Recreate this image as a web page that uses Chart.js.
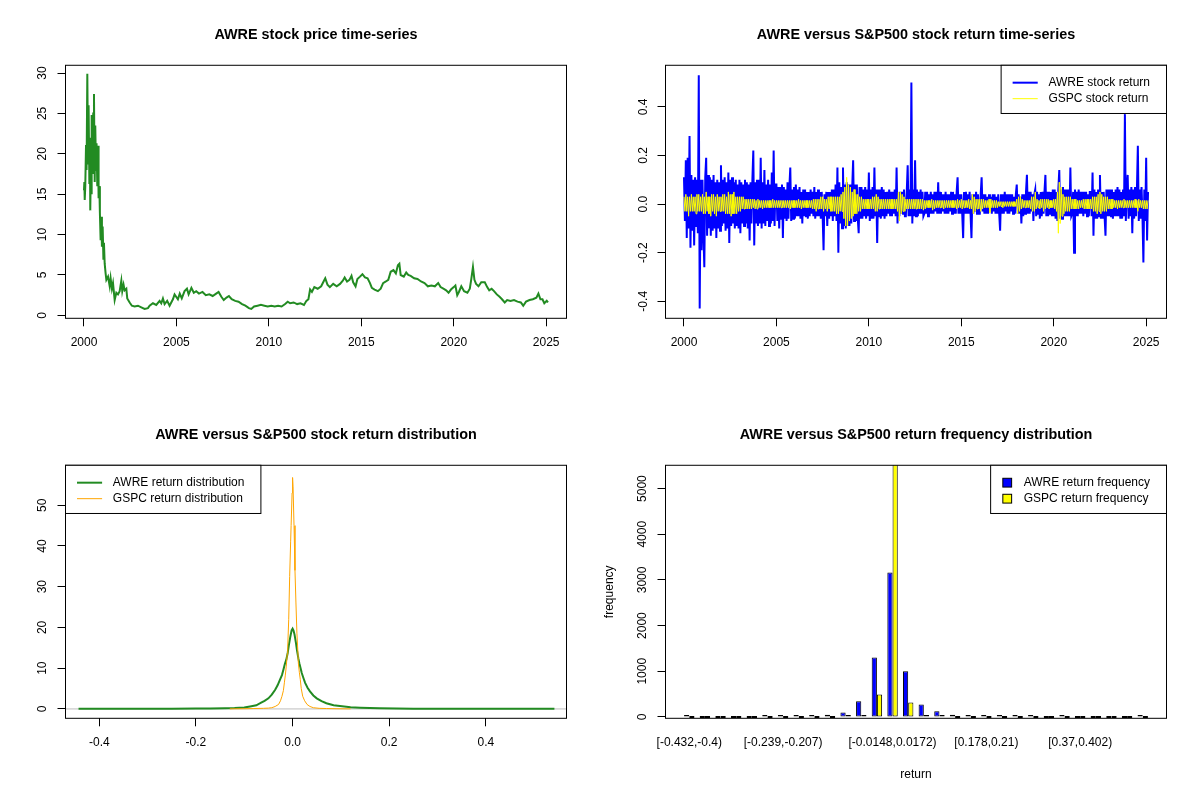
<!DOCTYPE html>
<html>
<head>
<meta charset="utf-8">
<script src="https://cdn.jsdelivr.net/npm/chart.js@4/dist/chart.umd.min.js"></script>
<style>
  html, body { margin: 0; background: #fff; }
  #grid { position: relative; width: 1200px; height: 800px; }
  .cell { position: absolute; width: 600px; height: 400px; }
</style>
</head>
<body>
<div id="grid">
  <div class="cell" style="left:0;top:0"><canvas id="priceChart" width="600" height="400"></canvas></div>
  <div class="cell" style="left:600px;top:0"><canvas id="returnChart" width="600" height="400"></canvas></div>
  <div class="cell" style="left:0;top:400px"><canvas id="densityChart" width="600" height="400"></canvas></div>
  <div class="cell" style="left:600px;top:400px"><canvas id="histChart" width="600" height="400"></canvas></div>
</div>
<script>
// ---- price series (decimal year, close) ----
var priceYears = [
  2000.00, 2000.02, 2000.04, 2000.07, 2000.11, 2000.14, 2000.18, 2000.22, 2000.25, 2000.29,
  2000.32, 2000.34, 2000.38, 2000.40, 2000.43, 2000.47, 2000.50, 2000.54, 2000.58, 2000.61,
  2000.65, 2000.68, 2000.72, 2000.76, 2000.79, 2000.83, 2000.86, 2000.90, 2000.94, 2000.97,
  2001.01, 2001.05, 2001.08, 2001.12, 2001.17, 2001.21, 2001.30, 2001.39, 2001.44, 2001.51,
  2001.57, 2001.66, 2001.75, 2001.84, 2001.93, 2002.02, 2002.07, 2002.14, 2002.20, 2002.29,
  2002.34, 2002.47, 2002.59, 2002.74, 2002.92, 2003.10, 2003.28, 2003.46, 2003.55, 2003.73,
  2003.91, 2004.09, 2004.18, 2004.27, 2004.36, 2004.50, 2004.63, 2004.81, 2004.90, 2005.08,
  2005.18, 2005.29, 2005.44, 2005.57, 2005.66, 2005.81, 2005.94, 2006.07, 2006.22, 2006.41,
  2006.59, 2006.78, 2006.96, 2007.15, 2007.28, 2007.43, 2007.56, 2007.71, 2007.84, 2007.99,
  2008.18, 2008.36, 2008.55, 2008.73, 2008.92, 2009.05, 2009.20, 2009.39, 2009.57, 2009.76,
  2009.94, 2010.13, 2010.32, 2010.50, 2010.69, 2010.88, 2011.02, 2011.15, 2011.34, 2011.53,
  2011.71, 2011.90, 2012.03, 2012.14, 2012.23, 2012.33, 2012.46, 2012.64, 2012.83, 2012.96,
  2013.05, 2013.17, 2013.30, 2013.48, 2013.67, 2013.85, 2014.00, 2014.10, 2014.23, 2014.36,
  2014.47, 2014.56, 2014.69, 2014.79, 2014.93, 2015.06, 2015.20, 2015.34, 2015.47, 2015.57,
  2015.72, 2015.90, 2016.05, 2016.18, 2016.33, 2016.46, 2016.59, 2016.74, 2016.87, 2016.98,
  2017.06, 2017.13, 2017.30, 2017.43, 2017.54, 2017.67, 2017.86, 2018.04, 2018.23, 2018.42,
  2018.60, 2018.79, 2018.98, 2019.16, 2019.29, 2019.44, 2019.59, 2019.72, 2019.85, 2020.00,
  2020.09, 2020.19, 2020.28, 2020.41, 2020.56, 2020.74, 2020.87, 2020.95, 2021.04, 2021.12,
  2021.21, 2021.34, 2021.49, 2021.68, 2021.81, 2021.92, 2022.05, 2022.18, 2022.33, 2022.48,
  2022.61, 2022.76, 2022.89, 2023.07, 2023.26, 2023.45, 2023.63, 2023.76, 2023.91, 2024.10,
  2024.28, 2024.47, 2024.58, 2024.69, 2024.80, 2024.90, 2025.03, 2025.10
];
var priceValues = [
  15.5, 16.5, 14.3, 16.0, 21.1, 18.0, 29.9, 18.8, 26.0, 16.4,
  22.0, 13.0, 20.0, 15.0, 24.8, 17.5, 25.0, 27.4, 16.5, 23.5,
  18.0, 21.3, 16.0, 21.0, 14.5, 16.0, 12.7, 9.3, 12.2, 8.5,
  11.0, 7.0, 9.0, 6.4, 5.2, 4.4, 4.8, 3.6, 4.6, 3.3,
  4.0, 1.9, 2.8, 2.6, 3.0, 4.3, 3.0, 3.8, 3.1, 3.3,
  2.1, 1.6, 1.2, 1.1, 1.2, 1.0, 0.8, 0.9, 1.2, 1.5,
  1.3, 1.8, 1.5, 2.1, 1.4, 1.8, 1.2, 2.0, 2.6, 2.0,
  2.7, 2.1, 3.0, 3.3, 2.6, 3.4, 2.8, 3.0, 2.7, 2.9,
  2.5, 2.6, 2.4, 2.7, 2.9, 2.3, 1.9, 2.2, 2.4, 2.0,
  1.8, 1.7, 1.4, 1.2, 0.9, 0.8, 1.1, 1.2, 1.3, 1.2,
  1.1, 1.2, 1.1, 1.2, 1.1, 1.4, 1.7, 1.5, 1.6, 1.4,
  1.5, 1.3, 1.8, 2.0, 3.2, 2.9, 3.5, 3.3, 3.6, 4.2,
  4.6, 3.8, 3.5, 3.9, 3.6, 3.9, 4.3, 4.7, 4.2, 4.4,
  4.9, 4.1, 3.6, 4.5, 4.8, 5.1, 4.7, 4.6, 4.0, 3.4,
  3.2, 3.0, 3.3, 4.0, 4.2, 4.4, 5.4, 5.6, 5.2, 6.2,
  6.4, 5.0, 4.8, 5.3, 5.0, 4.9, 4.6, 4.5, 4.2, 4.0,
  3.6, 3.7, 3.6, 4.0, 3.5, 3.3, 3.1, 2.8, 3.2, 3.5,
  3.7, 2.5, 2.9, 3.6, 3.0, 2.8, 3.3, 4.5, 6.0, 4.4,
  3.9, 3.6, 4.1, 4.1, 3.5, 3.1, 3.3, 3.0, 2.6, 2.3,
  2.0, 1.6, 1.9, 1.8, 1.9, 1.7, 1.6, 1.2, 1.7, 1.9,
  2.0, 2.2, 2.7, 2.0, 2.0, 1.5, 1.8, 1.6
];

// ---- daily returns, sampled every 0.05 year from 2000.0 (one row per year) ----
var returnStart = 2000;
var returnStep = 0.05;
var awreReturns = [
  0.11, -0.07, 0.18, -0.14, 0.19, -0.10, 0.28, -0.18, 0.12, -0.11, 0.10, -0.17, 0.11, -0.09, 0.10, -0.12, 0.53, -0.43, 0.10, -0.19,
  0.10, -0.12, -0.26, 0.11, 0.19, -0.13, 0.12, -0.10, 0.11, -0.13, 0.10, -0.11, 0.12, -0.10, 0.09, -0.14, 0.10, -0.10, 0.09, -0.11,
  0.16, -0.09, 0.10, -0.08, 0.11, -0.11, 0.09, -0.10, 0.13, -0.16, 0.10, -0.09, 0.11, -0.08, 0.09, -0.10, 0.10, -0.09, 0.08, -0.10,
  0.10, -0.12, 0.09, -0.08, 0.08, -0.09, 0.10, -0.08, 0.09, -0.10, 0.08, -0.15, 0.09, -0.08, 0.10, 0.22, -0.17, 0.09, -0.08, 0.10,
  -0.09, 0.10, -0.08, 0.19, -0.10, 0.09, -0.08, 0.14, -0.09, 0.08, -0.07, 0.10, -0.09, 0.08, -0.08, 0.13, -0.07, 0.22, -0.09, 0.08,
  0.08, -0.07, 0.07, -0.10, 0.07, -0.06, 0.08, -0.14, 0.07, -0.06, 0.06, -0.07, 0.09, -0.06, 0.07, 0.15, -0.07, 0.06, -0.06, 0.07,
  -0.06, 0.08, -0.05, 0.06, -0.05, 0.07, -0.06, 0.05, -0.08, 0.06, -0.05, 0.06, -0.05, 0.05, -0.06, 0.05, -0.05, 0.06, -0.04, 0.05,
  -0.05, 0.07, -0.06, 0.05, -0.05, 0.06, -0.05, 0.05, -0.06, 0.05, -0.05, -0.19, 0.04, -0.05, 0.05, -0.09, 0.05, -0.06, 0.05, -0.05,
  0.06, -0.07, 0.06, -0.05, 0.08, -0.07, 0.15, -0.20, 0.09, -0.08, 0.07, -0.10, 0.15, -0.09, 0.08, -0.10, 0.09, -0.09, 0.08, -0.09,
  0.08, -0.08, 0.07, 0.18, -0.07, 0.08, -0.07, 0.08, -0.06, -0.12, 0.07, -0.06, 0.07, -0.06, 0.06, -0.05, 0.07, -0.06, 0.06, -0.05,
  0.13, -0.07, 0.06, -0.06, 0.07, -0.06, 0.15, -0.05, 0.06, -0.16, 0.06, -0.05, 0.06, -0.06, 0.07, -0.05, 0.06, -0.06, 0.05, -0.05,
  0.05, -0.04, 0.06, -0.05, 0.05, -0.05, 0.05, -0.04, 0.06, -0.05, 0.15, -0.08, 0.05, -0.05, 0.05, -0.04, 0.05, -0.04, 0.06, -0.05,
  -0.05, 0.05, 0.16, -0.05, 0.06, -0.05, 0.50, -0.08, 0.06, -0.05, 0.18, -0.05, 0.06, -0.05, 0.05, -0.04, 0.06, -0.04, 0.05, -0.05,
  -0.04, 0.05, -0.04, 0.05, -0.05, 0.04, -0.04, 0.05, -0.04, 0.04, -0.04, 0.05, -0.03, 0.05, -0.04, 0.09, -0.04, 0.05, -0.04, 0.04,
  -0.03, 0.04, -0.04, 0.05, -0.04, 0.04, -0.04, 0.04, -0.03, 0.05, -0.04, 0.05, -0.04, 0.04, -0.04, 0.05, 0.11, -0.04, 0.04, -0.04,
  0.04, -0.04, -0.14, 0.05, -0.04, 0.05, -0.04, 0.04, -0.04, 0.05, -0.04, -0.14, 0.04, -0.04, 0.04, -0.03, 0.05, -0.04, 0.04, -0.04,
  -0.04, 0.04, 0.11, -0.03, 0.04, -0.04, 0.04, -0.04, 0.03, -0.04, 0.04, -0.03, 0.03, -0.04, 0.04, -0.03, 0.04, -0.04, 0.03, -0.04,
  0.04, -0.04, -0.11, 0.04, -0.04, 0.04, -0.04, 0.05, -0.03, 0.04, -0.04, 0.04, -0.04, 0.04, -0.03, 0.04, -0.04, 0.03, -0.04, 0.04,
  0.08, -0.04, 0.04, -0.04, 0.03, -0.08, 0.04, -0.05, 0.04, -0.04, 0.05, 0.12, -0.04, 0.05, -0.04, 0.05, -0.03, 0.04, -0.07, 0.04,
  0.06, -0.05, 0.05, -0.04, 0.04, -0.06, 0.05, -0.05, 0.05, -0.04, 0.05, 0.12, -0.05, 0.05, -0.05, 0.05, -0.04, 0.05, -0.05, 0.06,
  -0.05, 0.06, -0.06, 0.05, -0.07, 0.06, 0.14, -0.06, 0.06, -0.06, 0.07, -0.05, 0.06, -0.05, 0.06, -0.05, 0.06, -0.05, 0.15, -0.05,
  -0.04, 0.05, -0.20, 0.06, -0.05, 0.05, -0.05, 0.06, -0.04, 0.05, -0.04, 0.05, -0.05, 0.05, -0.04, 0.05, -0.05, 0.04, -0.05, 0.05,
  0.05, -0.05, 0.13, -0.13, 0.06, -0.06, 0.05, -0.06, 0.06, -0.05, 0.12, -0.06, 0.05, -0.06, 0.05, -0.05, -0.13, 0.06, -0.05, 0.06,
  -0.05, 0.06, -0.05, 0.06, -0.06, 0.05, -0.05, 0.06, -0.05, 0.07, -0.05, 0.06, -0.06, 0.05, -0.06, 0.06, -0.05, 0.37, -0.07, 0.06,
  0.12, -0.06, 0.06, -0.05, 0.07, -0.12, 0.06, -0.06, 0.07, -0.05, 0.06, 0.24, -0.07, 0.06, -0.06, 0.07, -0.05, -0.24, 0.06, -0.07,
  0.19, -0.15, 0.05
];
var gspcReturns = [
  0.03, -0.03, 0.04, -0.03, 0.03, -0.05, 0.03, -0.03, 0.04, -0.03, 0.03, -0.03, 0.03, -0.04, 0.04, -0.03, 0.04, -0.03, 0.03, -0.03,
  0.04, -0.04, 0.03, -0.04, 0.05, -0.03, 0.03, -0.04, 0.03, -0.05, 0.04, -0.03, 0.04, -0.04, 0.03, -0.05, 0.04, -0.03, 0.03, -0.03,
  0.03, -0.03, 0.04, -0.03, 0.04, -0.04, 0.03, -0.04, 0.05, -0.04, 0.04, -0.05, 0.04, -0.04, 0.05, -0.04, 0.03, -0.04, 0.03, -0.03,
  0.03, -0.03, 0.03, -0.02, 0.03, -0.02, 0.02, -0.02, 0.02, -0.02, 0.02, -0.02, 0.02, -0.02, 0.02, -0.015, 0.02, -0.02, 0.015, -0.02,
  0.02, -0.015, 0.015, -0.015, 0.015, -0.02, 0.015, -0.015, 0.015, -0.015, 0.015, -0.015, 0.015, -0.015, 0.015, -0.015, 0.02, -0.015, 0.015, -0.015,
  0.015, -0.015, 0.015, -0.015, 0.015, -0.015, 0.015, -0.015, 0.015, -0.015, 0.015, -0.015, 0.015, -0.015, 0.015, -0.02, 0.015, -0.015, 0.015, -0.015,
  0.015, -0.015, 0.015, -0.015, 0.02, -0.015, 0.015, -0.02, 0.015, -0.015, 0.015, -0.015, 0.015, -0.015, 0.015, -0.015, 0.015, -0.015, 0.015, -0.02,
  0.02, -0.02, 0.02, -0.03, 0.02, -0.02, 0.02, -0.02, 0.03, -0.02, 0.03, -0.03, 0.02, -0.02, 0.02, -0.03, 0.03, -0.02, 0.03, -0.03,
  0.03, -0.03, 0.03, -0.03, 0.03, -0.04, 0.03, -0.04, 0.03, -0.03, 0.04, -0.03, 0.05, -0.06, 0.07, -0.09, 0.11, -0.09, 0.08, -0.07,
  0.07, -0.06, 0.05, -0.05, 0.06, -0.04, 0.04, -0.04, 0.04, -0.03, 0.03, -0.03, 0.03, -0.02, 0.02, -0.02, 0.02, -0.02, 0.02, -0.02,
  0.02, -0.02, 0.02, -0.02, 0.03, -0.02, 0.03, -0.03, 0.04, -0.03, 0.03, -0.02, 0.02, -0.02, 0.02, -0.02, 0.02, -0.02, 0.02, -0.02,
  0.02, -0.02, 0.02, -0.02, 0.02, -0.02, 0.02, -0.02, 0.02, -0.02, 0.02, -0.03, 0.05, -0.07, 0.05, -0.04, 0.04, -0.03, 0.03, -0.03,
  0.02, -0.02, 0.02, -0.02, 0.02, -0.02, 0.02, -0.02, 0.02, -0.02, 0.02, -0.02, 0.02, -0.02, 0.02, -0.02, 0.02, -0.02, 0.02, -0.025,
  0.015, -0.02, 0.015, -0.015, 0.015, -0.015, 0.015, -0.015, 0.02, -0.025, 0.015, -0.02, 0.015, -0.015, 0.015, -0.015, 0.015, -0.015, 0.015, -0.015,
  0.015, -0.02, 0.015, -0.015, 0.015, -0.015, 0.015, -0.015, 0.015, -0.015, 0.015, -0.015, 0.015, -0.015, 0.015, -0.02, 0.02, -0.015, 0.015, -0.015,
  0.02, -0.02, 0.015, -0.015, 0.015, -0.015, 0.015, -0.015, 0.02, -0.02, 0.015, -0.02, 0.04, -0.04, 0.03, -0.03, 0.02, -0.02, 0.02, -0.02,
  0.02, -0.03, 0.02, -0.02, 0.02, -0.015, 0.015, -0.015, 0.015, -0.015, 0.02, -0.035, 0.02, -0.015, 0.015, -0.015, 0.015, -0.015, 0.015, -0.015,
  0.01, -0.01, 0.01, -0.01, 0.01, -0.015, 0.01, -0.01, 0.01, -0.01, 0.01, -0.01, 0.01, -0.01, 0.01, -0.01, 0.01, -0.01, 0.01, -0.01,
  0.02, -0.04, 0.03, -0.03, 0.03, -0.02, 0.02, -0.015, 0.015, -0.015, 0.015, -0.015, 0.015, -0.015, 0.015, -0.02, 0.03, -0.03, 0.03, -0.03,
  0.05, -0.02, 0.02, -0.015, 0.015, -0.02, 0.02, -0.015, 0.02, -0.03, 0.02, -0.02, 0.02, -0.015, 0.02, -0.02, 0.015, -0.015, 0.015, -0.015,
  0.02, -0.02, 0.02, -0.03, 0.05, -0.12, 0.09, -0.08, 0.07, -0.05, 0.04, -0.04, 0.03, -0.03, 0.03, -0.03, 0.03, -0.03, 0.03, -0.02,
  0.02, -0.02, 0.02, -0.02, 0.02, -0.02, 0.015, -0.02, 0.015, -0.015, 0.015, -0.015, 0.02, -0.02, 0.02, -0.02, 0.02, -0.02, 0.02, -0.02,
  0.02, -0.02, 0.03, -0.03, 0.03, -0.03, 0.03, -0.04, 0.04, -0.03, 0.05, -0.04, 0.04, -0.03, 0.03, -0.03, 0.03, -0.03, 0.03, -0.02,
  0.02, -0.02, 0.02, -0.02, 0.02, -0.015, 0.015, -0.015, 0.015, -0.02, 0.015, -0.015, 0.015, -0.015, 0.015, -0.015, 0.02, -0.015, 0.015, -0.015,
  0.015, -0.015, 0.015, -0.015, 0.015, -0.015, 0.015, -0.015, 0.02, -0.015, 0.015, -0.03, 0.02, -0.015, 0.015, -0.015, 0.015, -0.02, 0.015, -0.02,
  0.015, -0.02, 0.015
];

// ---- kernel densities ----
var awreDensX = [-0.443, -0.35, -0.25, -0.2, -0.17, -0.14, -0.12, -0.10, -0.088, -0.075, -0.067, -0.058, -0.05, -0.043, -0.036, -0.031, -0.026, -0.022, -0.019, -0.016, -0.013, -0.010, -0.008, -0.005, -0.002, 0.0, 0.002, 0.004, 0.007, 0.009, 0.012, 0.014, 0.017, 0.019, 0.023, 0.026, 0.031, 0.036, 0.043, 0.05, 0.06, 0.07, 0.085, 0.098, 0.12, 0.14, 0.16, 0.18, 0.25, 0.35, 0.45, 0.542];
var awreDensY = [0.02, 0.03, 0.05, 0.08, 0.12, 0.15, 0.2, 0.35, 0.6, 0.9, 1.4, 2.0, 2.6, 3.5, 4.7, 5.8, 7.2, 8.3, 9.6, 11.0, 12.1, 13.8, 15.4, 17.5, 19.3, 19.7, 19.2, 18.3, 16.2, 14.5, 12.4, 11.2, 9.8, 8.8, 7.4, 6.4, 5.2, 4.3, 3.3, 2.6, 1.9, 1.4, 0.9, 0.7, 0.4, 0.3, 0.2, 0.15, 0.05, 0.03, 0.03, 0.02];
var gspcDensX = [-0.13, -0.1, -0.08, -0.06, -0.05, -0.043, -0.036, -0.029, -0.025, -0.022, -0.019, -0.017, -0.015, -0.013, -0.011, -0.01, -0.008, -0.006, -0.004, -0.003, -0.001, 0.0, 0.001, 0.003, 0.005, 0.007, 0.009, 0.011, 0.012, 0.014, 0.016, 0.018, 0.021, 0.025, 0.03, 0.036, 0.043, 0.055, 0.07, 0.09, 0.12];
var gspcDensY = [0.02, 0.05, 0.1, 0.15, 0.2, 0.3, 0.6, 1.1, 2.0, 3.1, 4.5, 6.4, 8.3, 10.5, 13.5, 15.4, 21.9, 32.5, 41.0, 45.0, 53.0, 56.8, 54.5, 45.0, 34.0, 26.0, 18.6, 14.0, 11.2, 9.0, 7.2, 5.0, 3.1, 2.0, 1.1, 0.6, 0.3, 0.15, 0.1, 0.05, 0.02];

// ---- histogram of returns (30 bins) ----
var binLabels = [
  '[-0.432,-0.4)', '[-0.4,-0.368)', '[-0.368,-0.336)', '[-0.336,-0.304)', '[-0.304,-0.272)',
  '[-0.272,-0.239)', '[-0.239,-0.207)', '[-0.207,-0.175)', '[-0.175,-0.143)', '[-0.143,-0.111)',
  '[-0.111,-0.0789)', '[-0.0789,-0.0468)', '[-0.0468,-0.0148)', '[-0.0148,0.0172)', '[0.0172,0.0493)',
  '[0.0493,0.0813)', '[0.0813,0.113)', '[0.113,0.145)', '[0.145,0.178)', '[0.178,0.21)',
  '[0.21,0.242)', '[0.242,0.274)', '[0.274,0.306)', '[0.306,0.338)', '[0.338,0.37)',
  '[0.37,0.402)', '[0.402,0.434)', '[0.434,0.466)', '[0.466,0.498)', '[0.498,0.53)'
];
var shownBins = [0, 6, 13, 19, 25];
var freqTicks = [0, 1000, 2000, 3000, 4000, 5000];
var awreFreq = [1, 0, 0, 0, 0, 1, 2, 15, 25, 50, 95, 343, 1300, 3160, 1000, 270, 125, 50, 22, 20, 3, 2, 1, 0, 1, 0, 0, 0, 0, 1];
var gspcFreq = [0, 0, 0, 0, 0, 0, 0, 0, 0, 0, 3, 28, 489, 5560, 314, 20, 2, 0, 0, 0, 0, 0, 0, 0, 0, 0, 0, 0, 0, 0];

Chart.defaults.font.family = '"Liberation Sans", Arial, sans-serif';
Chart.defaults.font.size = 12;
Chart.defaults.color = '#000';

// box round the plot region, like R's box()
var frame = {
  id: 'frame',
  afterDraw: function (chart) {
    var a = chart.chartArea, ctx = chart.ctx;
    ctx.save();
    ctx.strokeStyle = '#000';
    ctx.lineWidth = 1;
    ctx.strokeRect(a.left, a.top, a.right - a.left, a.bottom - a.top);
    ctx.restore();
  }
};

// R style legend drawn inside the plot
var rLegend = {
  id: 'rLegend',
  afterDraw: function (chart, args, opts) {
    if (!opts || !opts.kind) return;
    var a = chart.chartArea, ctx = chart.ctx;
    var items = chart.data.datasets;
    ctx.save();
    ctx.font = '12px "Liberation Sans", Arial, sans-serif';
    var textW = 0;
    items.forEach(function (d) { textW = Math.max(textW, ctx.measureText(d.label).width); });
    var w = opts.textX + textW + 16.5;
    var h = 48.2;
    var x0 = opts.side === 'right' ? a.right - w : a.left;
    var y0 = a.top;
    ctx.fillStyle = '#fff';
    ctx.fillRect(x0, y0, w, h);
    ctx.strokeStyle = '#000';
    ctx.lineWidth = 1;
    ctx.strokeRect(x0, y0, w, h);
    items.forEach(function (d, i) {
      var y = y0 + 17.4 + i * 16;
      if (opts.kind === 'box') {
        ctx.fillStyle = d.backgroundColor;
        ctx.fillRect(x0 + 12.2, y - 4.4, 8.8, 8.8);
        ctx.strokeStyle = '#000';
        ctx.lineWidth = 1;
        ctx.strokeRect(x0 + 12.2, y - 4.4, 8.8, 8.8);
      } else {
        ctx.strokeStyle = d.borderColor;
        ctx.lineWidth = d.borderWidth;
        ctx.beginPath();
        ctx.moveTo(x0 + 11.5, y);
        ctx.lineTo(x0 + 36.6, y);
        ctx.stroke();
      }
      ctx.fillStyle = '#000';
      ctx.textBaseline = 'middle';
      ctx.textAlign = 'left';
      ctx.fillText(d.label, x0 + opts.textX, y);
    });
    ctx.restore();
  }
};

// grey zero line of plot.density
var zeroLine = {
  id: 'zeroLine',
  beforeDatasetsDraw: function (chart) {
    var a = chart.chartArea, ctx = chart.ctx;
    var y = chart.scales.y.getPixelForValue(0);
    ctx.save();
    ctx.strokeStyle = '#BEBEBE';
    ctx.lineWidth = 1;
    ctx.beginPath();
    ctx.moveTo(a.left, y);
    ctx.lineTo(a.right, y);
    ctx.stroke();
    ctx.restore();
  }
};

function plainNum(v) { return String(v); }
function oneDec(v) { return v.toFixed(1); }

function xAxis(min, max, step, fmt) {
  return {
    type: 'linear', min: min, max: max,
    afterFit: function (s) { s.height = 81.7; },
    ticks: { stepSize: step, includeBounds: false, autoSkip: false, maxRotation: 0, padding: 9.2, callback: fmt },
    grid: { drawOnChartArea: false, drawTicks: true, tickLength: 8, color: '#000', tickColor: '#000' },
    border: { display: false }
  };
}

function yAxis(min, max, step, pad, fmt) {
  return {
    type: 'linear', min: min, max: max,
    afterFit: function (s) { s.width = 65.5; },
    ticks: { stepSize: step, includeBounds: false, autoSkip: false, minRotation: 90, maxRotation: 90,
             crossAlign: 'center', padding: pad, callback: fmt },
    grid: { drawOnChartArea: false, drawTicks: true, tickLength: 8, color: '#000', tickColor: '#000' },
    border: { display: false }
  };
}

function baseOptions(title) {
  return {
    responsive: false,
    animation: false,
    devicePixelRatio: 1,
    layout: { padding: { left: 0, right: 33.5, top: 0, bottom: 0 } },
    plugins: {
      legend: { display: false },
      tooltip: { enabled: false },
      title: {
        display: true, text: title, fullSize: false, color: '#000',
        font: { size: 14.4, weight: 'bold' },
        padding: { top: 26.4, bottom: 21.6 }
      }
    }
  };
}

// 1. price
var opt1 = baseOptions('AWRE stock price time-series');
opt1.scales = { x: xAxis(1999.0, 2026.1, 5, plainNum), y: yAxis(-0.36, 30.96, 5, 8.5, plainNum) };
new Chart(document.getElementById('priceChart'), {
  type: 'line',
  data: {
    datasets: [{
      label: 'AWRE',
      data: priceYears.map(function (t, i) { return { x: t, y: priceValues[i] }; }),
      borderColor: '#228B22', borderWidth: 2, pointRadius: 0, tension: 0
    }]
  },
  options: opt1,
  plugins: [frame]
});

// 2. returns
function returnPoints(arr) {
  return arr.map(function (r, i) { return { x: Math.round((returnStart + i * returnStep) * 100) / 100, y: r }; });
}
var opt2 = baseOptions('AWRE versus S&P500 stock return time-series');
opt2.scales = { x: xAxis(1999.0, 2026.1, 5, plainNum), y: yAxis(-0.47, 0.571, 0.2, 3.9, oneDec) };
opt2.plugins.rLegend = { kind: 'line', side: 'right', textX: 47.3 };
new Chart(document.getElementById('returnChart'), {
  type: 'line',
  data: {
    datasets: [
      { label: 'AWRE stock return', data: returnPoints(awreReturns), borderColor: '#0000FF', borderWidth: 2,
        pointRadius: 0, tension: 0, order: 1 },
      { label: 'GSPC stock return', data: returnPoints(gspcReturns), borderColor: '#FFFF00', borderWidth: 1,
        pointRadius: 0, tension: 0, order: 0 }
    ]
  },
  options: opt2,
  plugins: [frame, rLegend]
});

// 3. densities
var opt3 = baseOptions('AWRE versus S&P500 stock return distribution');
opt3.scales = { x: xAxis(-0.47, 0.567, 0.2, oneDec), y: yAxis(-2.3, 59.8, 10, 7.8, plainNum) };
opt3.plugins.rLegend = { kind: 'line', side: 'left', textX: 47.3 };
new Chart(document.getElementById('densityChart'), {
  type: 'line',
  data: {
    datasets: [
      { label: 'AWRE return distribution', data: awreDensX.map(function (x, i) { return { x: x, y: awreDensY[i] }; }),
        borderColor: '#228B22', borderWidth: 2, pointRadius: 0, tension: 0, order: 1 },
      { label: 'GSPC return distribution', data: gspcDensX.map(function (x, i) { return { x: x, y: gspcDensY[i] }; }),
        borderColor: '#FFA500', borderWidth: 1, pointRadius: 0, tension: 0, order: 0 }
    ]
  },
  options: opt3,
  plugins: [zeroLine, frame, rLegend]
});

// 4. histogram
var opt4 = baseOptions('AWRE versus S&P500 return frequency distribution');
var histX = {
  type: 'linear', min: -1.52, max: 30.52, offset: false,
  afterFit: function (s) { s.height = 81.7; },
  afterBuildTicks: function (s) { s.ticks = shownBins.map(function (v) { return { value: v }; }); },
  ticks: { autoSkip: false, maxRotation: 0, padding: 17.2, callback: function (v) { return binLabels[v]; } },
  grid: { display: false, drawTicks: false, offset: false },
  border: { display: false },
  title: { display: true, text: 'return', font: { size: 12 }, padding: { top: 0, bottom: 17.8 } }
};
var histY = yAxis(-30, 5510, 1000, 1.6, plainNum);
histY.afterBuildTicks = function (s) { s.ticks = freqTicks.map(function (v) { return { value: v }; }); };
histY.title = { display: true, text: 'frequency', font: { size: 12 }, padding: { top: 2.8, bottom: 0 } };
opt4.scales = { x: histX, y: histY };
opt4.plugins.rLegend = { kind: 'box', side: 'right', textX: 33.1 };
new Chart(document.getElementById('histChart'), {
  type: 'bar',
  data: {
    datasets: [
      { label: 'AWRE return frequency', data: awreFreq.map(function (c, i) { return { x: i, y: c }; }),
        backgroundColor: '#0000FF', borderColor: '#000', borderWidth: 1, borderSkipped: false, minBarLength: 2,
        categoryPercentage: 2 / 3, barPercentage: 1 },
      { label: 'GSPC return frequency', data: gspcFreq.map(function (c, i) { return { x: i, y: c }; }),
        backgroundColor: '#FFFF00', borderColor: '#000', borderWidth: 1, borderSkipped: false, minBarLength: 2,
        categoryPercentage: 2 / 3, barPercentage: 1 }
    ]
  },
  options: opt4,
  plugins: [frame, rLegend]
});
</script>
</body>
</html>
